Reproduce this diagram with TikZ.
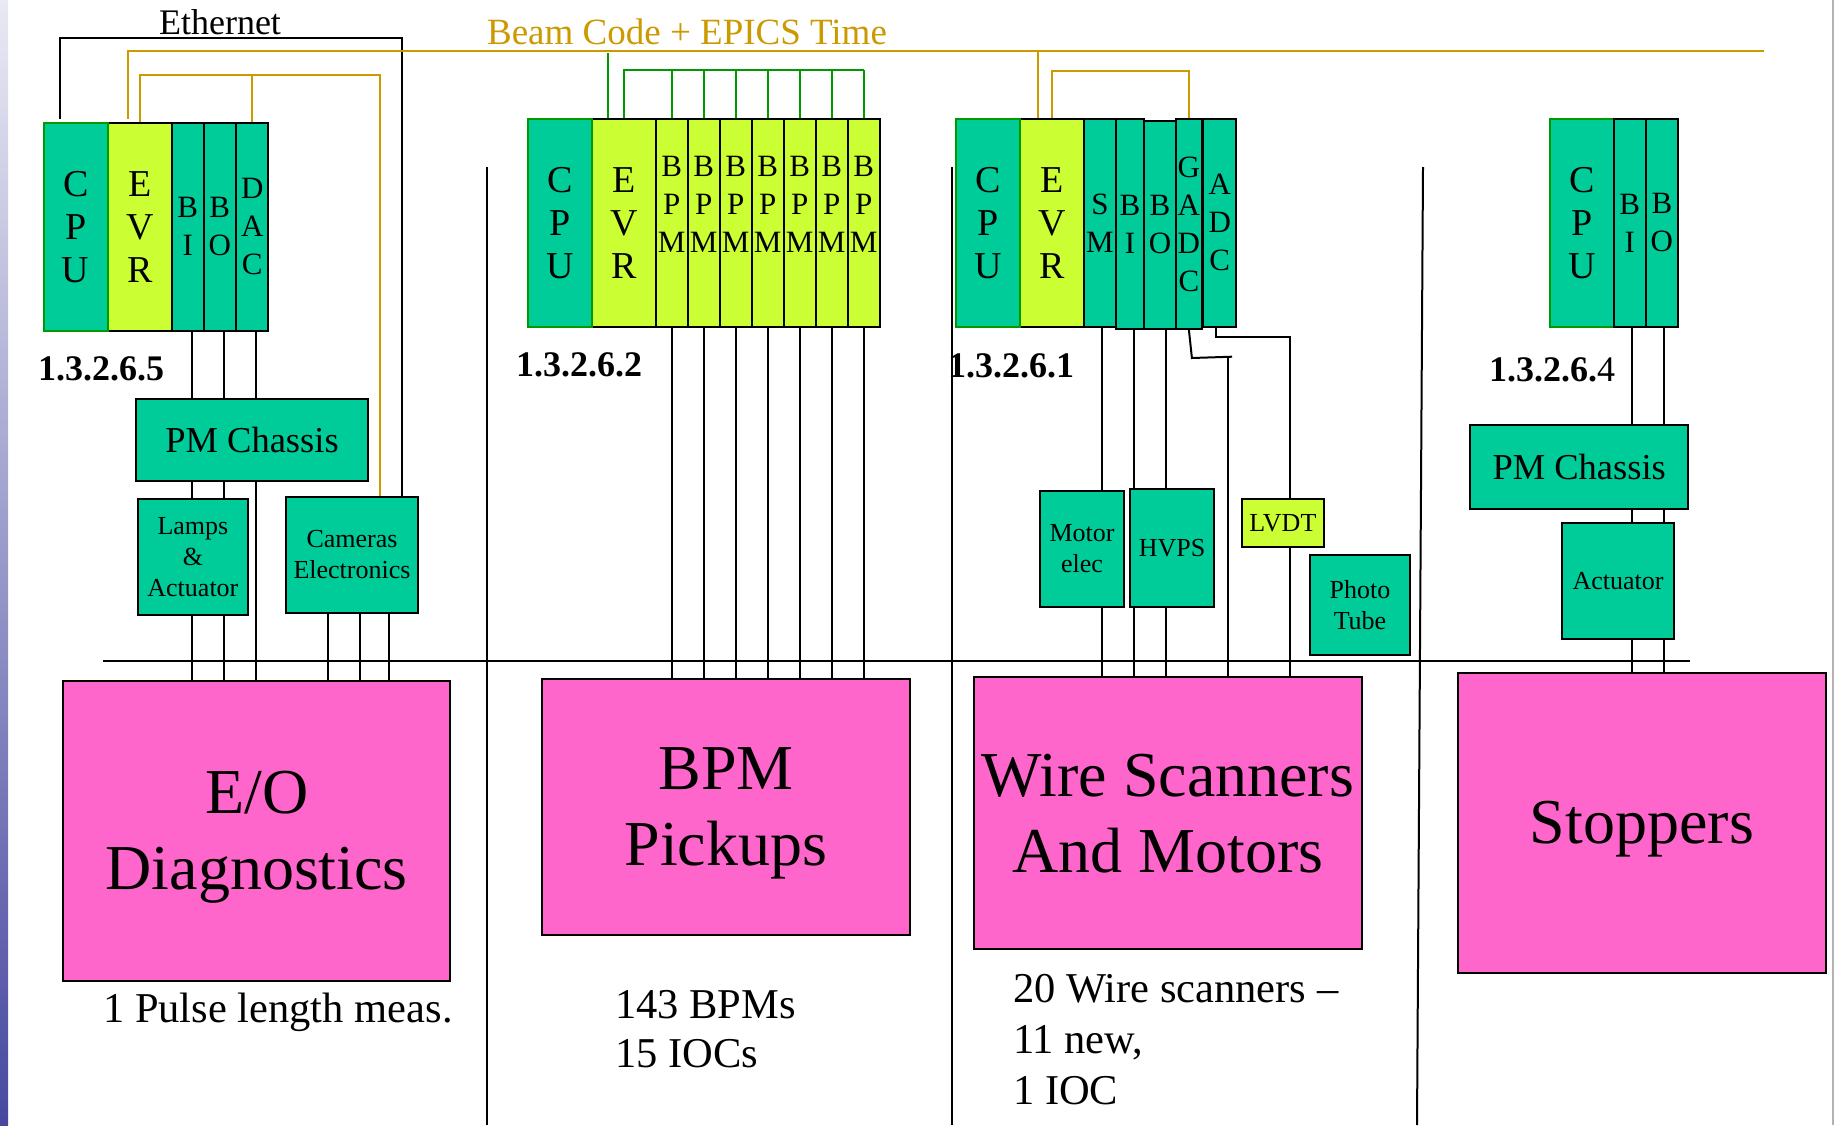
\documentclass[tikz,border=0pt]{standalone}
\usepackage{fontspec}
\setmainfont{Liberation Serif}
\usetikzlibrary{positioning}
\definecolor{slotteal}{HTML}{00CC99}
\definecolor{evrlime}{HTML}{CCFF33}
\definecolor{syspink}{HTML}{FF66CC}
\definecolor{gold}{HTML}{CC9900}
\definecolor{cpuedge}{HTML}{009900}
\definecolor{stripblue}{HTML}{4848A0}

\begin{document}
\begin{tikzpicture}[
  x=1pt,y=-1pt,
  slot/.style={draw=black,fill=slotteal,line width=2.2pt,inner sep=0pt,
    align=center,minimum width=32pt,minimum height=208pt,
    font=\fontsize{31}{38}\selectfont},
  evr/.style={slot,fill=evrlime,minimum width=64pt,
    font=\fontsize{38}{43}\selectfont},
  cpu/.style={slot,draw=cpuedge,minimum width=64pt,
    font=\fontsize{38}{43}\selectfont},
  unit/.style={draw=black,fill=slotteal,line width=2.2pt,inner sep=0pt,
    align=center,font=\fontsize{26}{31}\selectfont},
  chassis/.style={unit,font=\fontsize{36.5}{40}\selectfont},
  system/.style={draw=black,fill=syspink,line width=2.2pt,inner sep=0pt,
    align=center,text depth=0pt,font=\fontsize{64}{76}\selectfont},
  iocid/.style={anchor=base west,inner sep=0pt,
    font=\fontsize{36}{40}\selectfont},
  note/.style={anchor=west,inner sep=0pt,align=left},
  wire/.style={line width=2pt,draw=black},
  timing/.style={line width=2.4pt,draw=gold},
  clock/.style={line width=2pt,draw=cpuedge}
]
\useasboundingbox (0,0) rectangle (1835,1125);
\shade[top color=stripblue!12,bottom color=stripblue] (0,0) rectangle (8,1125);
\draw[gray!60,line width=2pt] (1833,0) -- (1833,1125);

\node[anchor=base,inner sep=0pt,font=\fontsize{36}{40}\selectfont]
  (ethernet) at (220,34) {Ethernet};
\node[anchor=base,inner sep=0pt,text=gold,font=\fontsize{37}{40}\selectfont]
  (beamcode) at (687,44.5) {Beam Code + EPICS Time};

% IOC 1.3.2.6.5
\node[evr] (evrA) at (139.8,226.7) {E\\V\\R};
\node[cpu] (cpuA) at (75.7,226.7) {C\\P\\U};
\node[slot] (biA) at (187.7,226.7) {B\\I};
\node[slot] (boA) at (219.8,226.7) {B\\O};
\node[slot] (dacA) at (252.2,226.7) {D\\A\\C};
\node[iocid] (iocA) at (38,380) {\bfseries 1.3.2.6.5};
\node[chassis,minimum width=232.6pt,minimum height=81.7pt]
  (pmA) at (252,439.9) {PM Chassis};
\node[unit,minimum width=110.3pt,minimum height=116.3pt]
  (lampsA) at (192.9,556.9) {Lamps\\\&\\Actuator};
\node[unit,minimum width=132.6pt,minimum height=115.7pt]
  (camA) at (352,554.9) {Cameras\\Electronics};
\node[system,minimum width=386.7pt,minimum height=300pt]
  (eoA) at (256.7,830.7) {E/O\\Diagnostics};
\node[note,anchor=base west,font=\fontsize{42.5}{50}\selectfont]
  (eoNote) at (103,1022.7) {1 Pulse length meas.};

% IOC 1.3.2.6.2
\node[evr] (evrB) at (624,222.9) {E\\V\\R};
\node[cpu] (cpuB) at (560,222.9) {C\\P\\U};
\foreach \k in {1,...,7}
  \node[slot,fill=evrlime] (bpm\k) at ({639.7+32*\k},222.9) {B\\P\\M\\\mbox{}};
\node[iocid] (iocB) at (516,376.7) {\bfseries 1.3.2.6.2};
\node[system,minimum width=368.3pt,minimum height=256pt]
  (bpmBox) at (725.9,807) {BPM\\Pickups};
\node[note,font=\fontsize{42.5}{49.3}\selectfont]
  (bpmNote) at (615,1029) {143 BPMs\\15 IOCs};

% IOC 1.3.2.6.1
\node[evr] (evrC) at (1052,222.9) {E\\V\\R};
\node[cpu] (cpuC) at (987.9,222.9) {C\\P\\U};
\node[slot,minimum width=31.7pt] (smC) at (1099.9,222.9) {S\\M};
\node[slot,minimum width=28.3pt,minimum height=210pt] (biC) at (1129.9,223.9) {B\\I};
\node[slot,minimum height=208pt] (boC) at (1160,224.9) {B\\O};
\node[slot,minimum width=25.7pt,minimum height=210pt] (gadcC) at (1188.9,223.9) {G\\A\\D\\C};
\node[slot,minimum width=32.7pt] (adcC) at (1219.7,222.9) {A\\D\\C};
\node[iocid] (iocC) at (948,377.7) {\bfseries 1.3.2.6.1};
\node[unit,minimum width=84pt,minimum height=115.7pt]
  (motorC) at (1082,548.9) {Motor\\elec};
\node[unit,minimum width=84pt,minimum height=117.7pt]
  (hvpsC) at (1172,547.9) {HVPS};
\node[unit,fill=evrlime,minimum width=82.3pt,minimum height=48.3pt]
  (lvdtC) at (1282.9,523.2) {LVDT};
\node[unit,minimum width=100pt,minimum height=99.7pt]
  (photoC) at (1360,604.9) {Photo\\Tube};
\node[system,minimum width=388.3pt,minimum height=272.3pt]
  (wireBox) at (1167.9,812.9) {Wire Scanners\\And Motors};
\node[note,font=\fontsize{42.5}{51}\selectfont]
  (wireNote) at (1013,1040) {20 Wire scanners --\\11 new,\\1 IOC};

% IOC 1.3.2.6.4
\node[cpu] (cpuD) at (1581.9,222.9) {C\\P\\U};
\node[slot] (biD) at (1629.7,222.9) {B\\I};
\node[slot] (boD) at (1661.9,222.9) {B\\O};
\node[iocid] (iocD) at (1489,381.7) {\textbf{1.3.2.6.}4};
\node[chassis,minimum width=218.3pt,minimum height=83.7pt]
  (pmD) at (1579.2,466.9) {PM Chassis};
\node[unit,minimum width=112pt,minimum height=116pt]
  (actD) at (1618,580.7) {Actuator};
\node[system,minimum width=367.9pt,minimum height=300pt]
  (stopBox) at (1641.9,822.7) {Stoppers};

% Ethernet and timing distribution
\coordinate (ethR) at (401.7,37.5);
\coordinate (beamR) at (1764,51);
\coordinate (trigA) at (380,75);
\draw[wire] ([xshift=-16pt,yshift=3pt]cpuA.north) |- (ethR) -- (ethR |- camA.north);
\draw[timing] ([xshift=-12pt,yshift=3pt]evrA.north) |- (beamR);
\draw[timing] (evrA.north) |- (trigA) -- (trigA |- camA.north);
\draw[timing] (dacA.north) -- (dacA.north |- trigA);
\draw[timing] ([xshift=-14pt]evrC.north) -- ([xshift=-14pt]evrC.north |- beamR);
\draw[timing] (evrC.north) |- ([yshift=47pt]gadcC.north) -- (gadcC.north);
\draw[clock] ([xshift=-16pt]evrB.north) -- ++(0,-65);
\draw[clock] (evrB.north) |- ([yshift=48pt]bpm7.north);
\foreach \k in {1,...,7}{
  \draw[clock] (bpm\k.north) -- ++(0,-48);
  \draw[wire] (bpm\k.south) -- (bpm\k.south |- bpmBox.north);
}

% I/O cabling
\coordinate (biAw) at ([xshift=4pt]biA.south);
\coordinate (boAw) at ([xshift=4pt]boA.south);
\coordinate (dacAw) at ([xshift=4pt]dacA.south);
\foreach \w in {biAw,boAw}{
  \draw[wire] (\w) -- (\w |- pmA.north);
  \draw[wire] (\w |- pmA.south) -- (\w |- lampsA.north);
  \draw[wire] (\w |- lampsA.south) -- (\w |- eoA.north);
}
\draw[wire] (dacAw) -- (dacAw |- pmA.north);
\draw[wire] (dacAw |- pmA.south) -- (dacAw |- eoA.north);
\foreach \dx in {-24,8,37}{
  \coordinate (camW) at ([xshift=\dx pt]camA.south);
  \draw[wire] (camW) -- (camW |- eoA.north);
}

\coordinate (smCw) at ([xshift=2pt]smC.south);
\coordinate (biCw) at ([xshift=4pt]biC.south);
\coordinate (boCw) at ([xshift=6pt]boC.south);
\draw[wire] (smCw) -- (smCw |- motorC.north);
\draw[wire] (smCw |- motorC.south) -- (smCw |- wireBox.north);
\foreach \w in {biCw,boCw}{
  \draw[wire] (\w) -- (\w |- hvpsC.north);
  \draw[wire] (\w |- hvpsC.south) -- (\w |- wireBox.north);
}
\coordinate (gadcJ) at (1228,356.7);
\coordinate (adcJ) at (1290,337.3);
\draw[wire] (gadcC.south) -- ++(3,28) -- ([xshift=4pt]gadcJ);
\draw[wire] (gadcJ) -- (gadcJ |- wireBox.north);
\draw[wire] ([xshift=-4pt]adcC.south) |- (adcJ) -- (adcJ |- lvdtC.north);
\draw[wire] (adcJ |- lvdtC.south) -- (adcJ |- wireBox.north);

\coordinate (biDw) at ([xshift=2pt]biD.south);
\coordinate (boDw) at ([xshift=2pt]boD.south);
\foreach \w in {biDw,boDw}{
  \draw[wire] (\w) -- (\w |- pmD.north);
  \draw[wire] (\w |- pmD.south) -- (\w |- actD.north);
  \draw[wire] (\w |- actD.south) -- (\w |- stopBox.north);
}

% field bus and section dividers
\coordinate (busL) at (103,660.7);
\coordinate (busR) at (1690,660.7);
\draw[wire] (busL) -- (busR);
\draw[wire] (487,167) -- (487,1125);
\draw[wire] (952,167) -- (952,1125);
\draw[wire] (1423,167) -- (1417,1125);
\end{tikzpicture}
\end{document}
